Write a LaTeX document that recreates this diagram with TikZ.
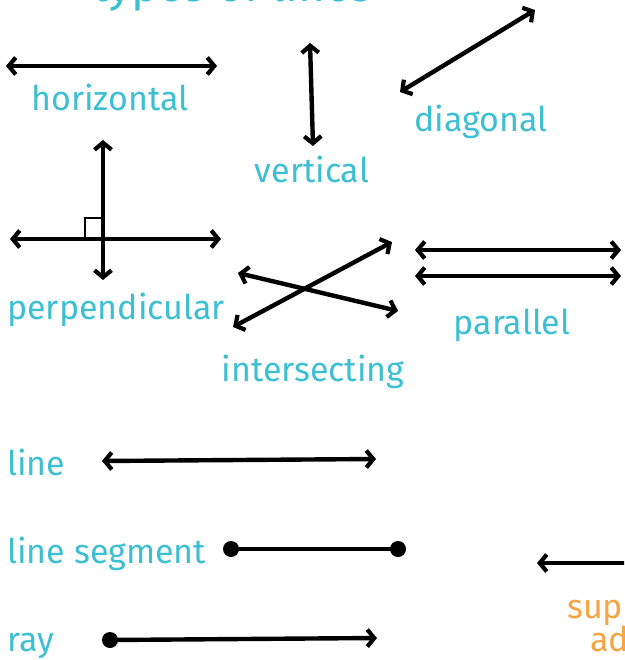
\documentclass[tikz,border=0pt]{standalone}
\usepackage{fontspec}
\setmainfont{Fira Sans}
\usetikzlibrary{arrows.meta}
\definecolor{teal}{HTML}{3DBFD3}
\definecolor{orng}{HTML}{F7A443}
\tikzset{
  ln/.style={line width=4.4pt, line cap=round, black},
  dbl/.style={ln, {Straight Barb[length=7pt,width=17pt,line width=4.2pt]}-{Straight Barb[length=7pt,width=17pt,line width=4.2pt]}},
  sgl/.style={ln, -{Straight Barb[length=7pt,width=17pt,line width=4.2pt]}},
  lab/.style={text=teal, font=\fontsize{34}{36}\selectfont, anchor=base, inner sep=0pt},
  dot/.style={circle, fill=black, inner sep=0pt, minimum size=16pt},
}
\begin{document}
\begin{tikzpicture}[x=1pt,y=-1pt]
\useasboundingbox (0,0) rectangle (624,660);
\clip (0,0) rectangle (624,660);
\node[lab, font=\fontsize{46}{48}\selectfont] (title) at (232,2) {types of lines};
% horizontal
\coordinate (h1) at (6,66); \coordinate (h2) at (217,66);
\draw[dbl] (h1) -- (h2);
\node[lab] (hl) at (110,111) {horizontal};
% vertical
\coordinate (v1) at (310,43); \coordinate (v2) at (313,146);
\draw[dbl] (v1) -- (v2);
\node[lab] (vl) at (312,183) {vertical};
% diagonal
\coordinate (d1) at (535,10); \coordinate (d2) at (400,92);
\draw[dbl] (d1) -- (d2);
\node[lab] (dl) at (481,132) {diagonal};
% perpendicular
\coordinate (p1) at (10,239); \coordinate (p2) at (221,239);
\coordinate (p3) at (103,140); \coordinate (p4) at (103,280);
\draw[dbl] (p1) -- (p2);
\draw[dbl] (p3) -- (p4);
\draw[line width=2.4pt] (103,218) -- (85,218) -- (85,239);
\node[lab] (pl) at (116,319) {perpendicular};
% intersecting
\coordinate (i1) at (233,327); \coordinate (i2) at (392,242);
\coordinate (i3) at (238,273); \coordinate (i4) at (398,311);
\draw[dbl] (i1) -- (i2);
\draw[dbl] (i3) -- (i4);
\node[lab] (il) at (313,381) {intersecting};
% parallel
\coordinate (a1) at (415,250); \coordinate (a2) at (621,250);
\coordinate (a3) at (415,276); \coordinate (a4) at (621,276);
\draw[dbl] (a1) -- (a2);
\draw[dbl] (a3) -- (a4);
\node[lab] (al) at (512,334) {parallel};
% line
\node[lab, anchor=base west] (ll) at (7,475) {line};
\coordinate (l1) at (102,461); \coordinate (l2) at (376,459);
\draw[dbl] (l1) -- (l2);
% line segment
\node[lab, anchor=base west] (sl) at (7,563) {line segment};
\node[dot] (s1) at (231,549) {};
\node[dot] (s2) at (398,549) {};
\draw[ln] (s1.center) -- (s2.center);
% ray
\node[lab, anchor=base west] (rl) at (7,651) {ray};
\node[dot] (r1) at (110,640) {};
\coordinate (r2) at (377,638);
\draw[sgl] (r1.center) -- (r2);
% bottom right
\coordinate (b1) at (640,563); \coordinate (b2) at (537,563);
\draw[sgl] (b1) -- (b2);
\node[lab, text=orng, anchor=base west] (ol1) at (567,618) {sup};
\node[lab, text=orng, anchor=base west] (ol2) at (590,651) {ad};
\end{tikzpicture}
\end{document}
